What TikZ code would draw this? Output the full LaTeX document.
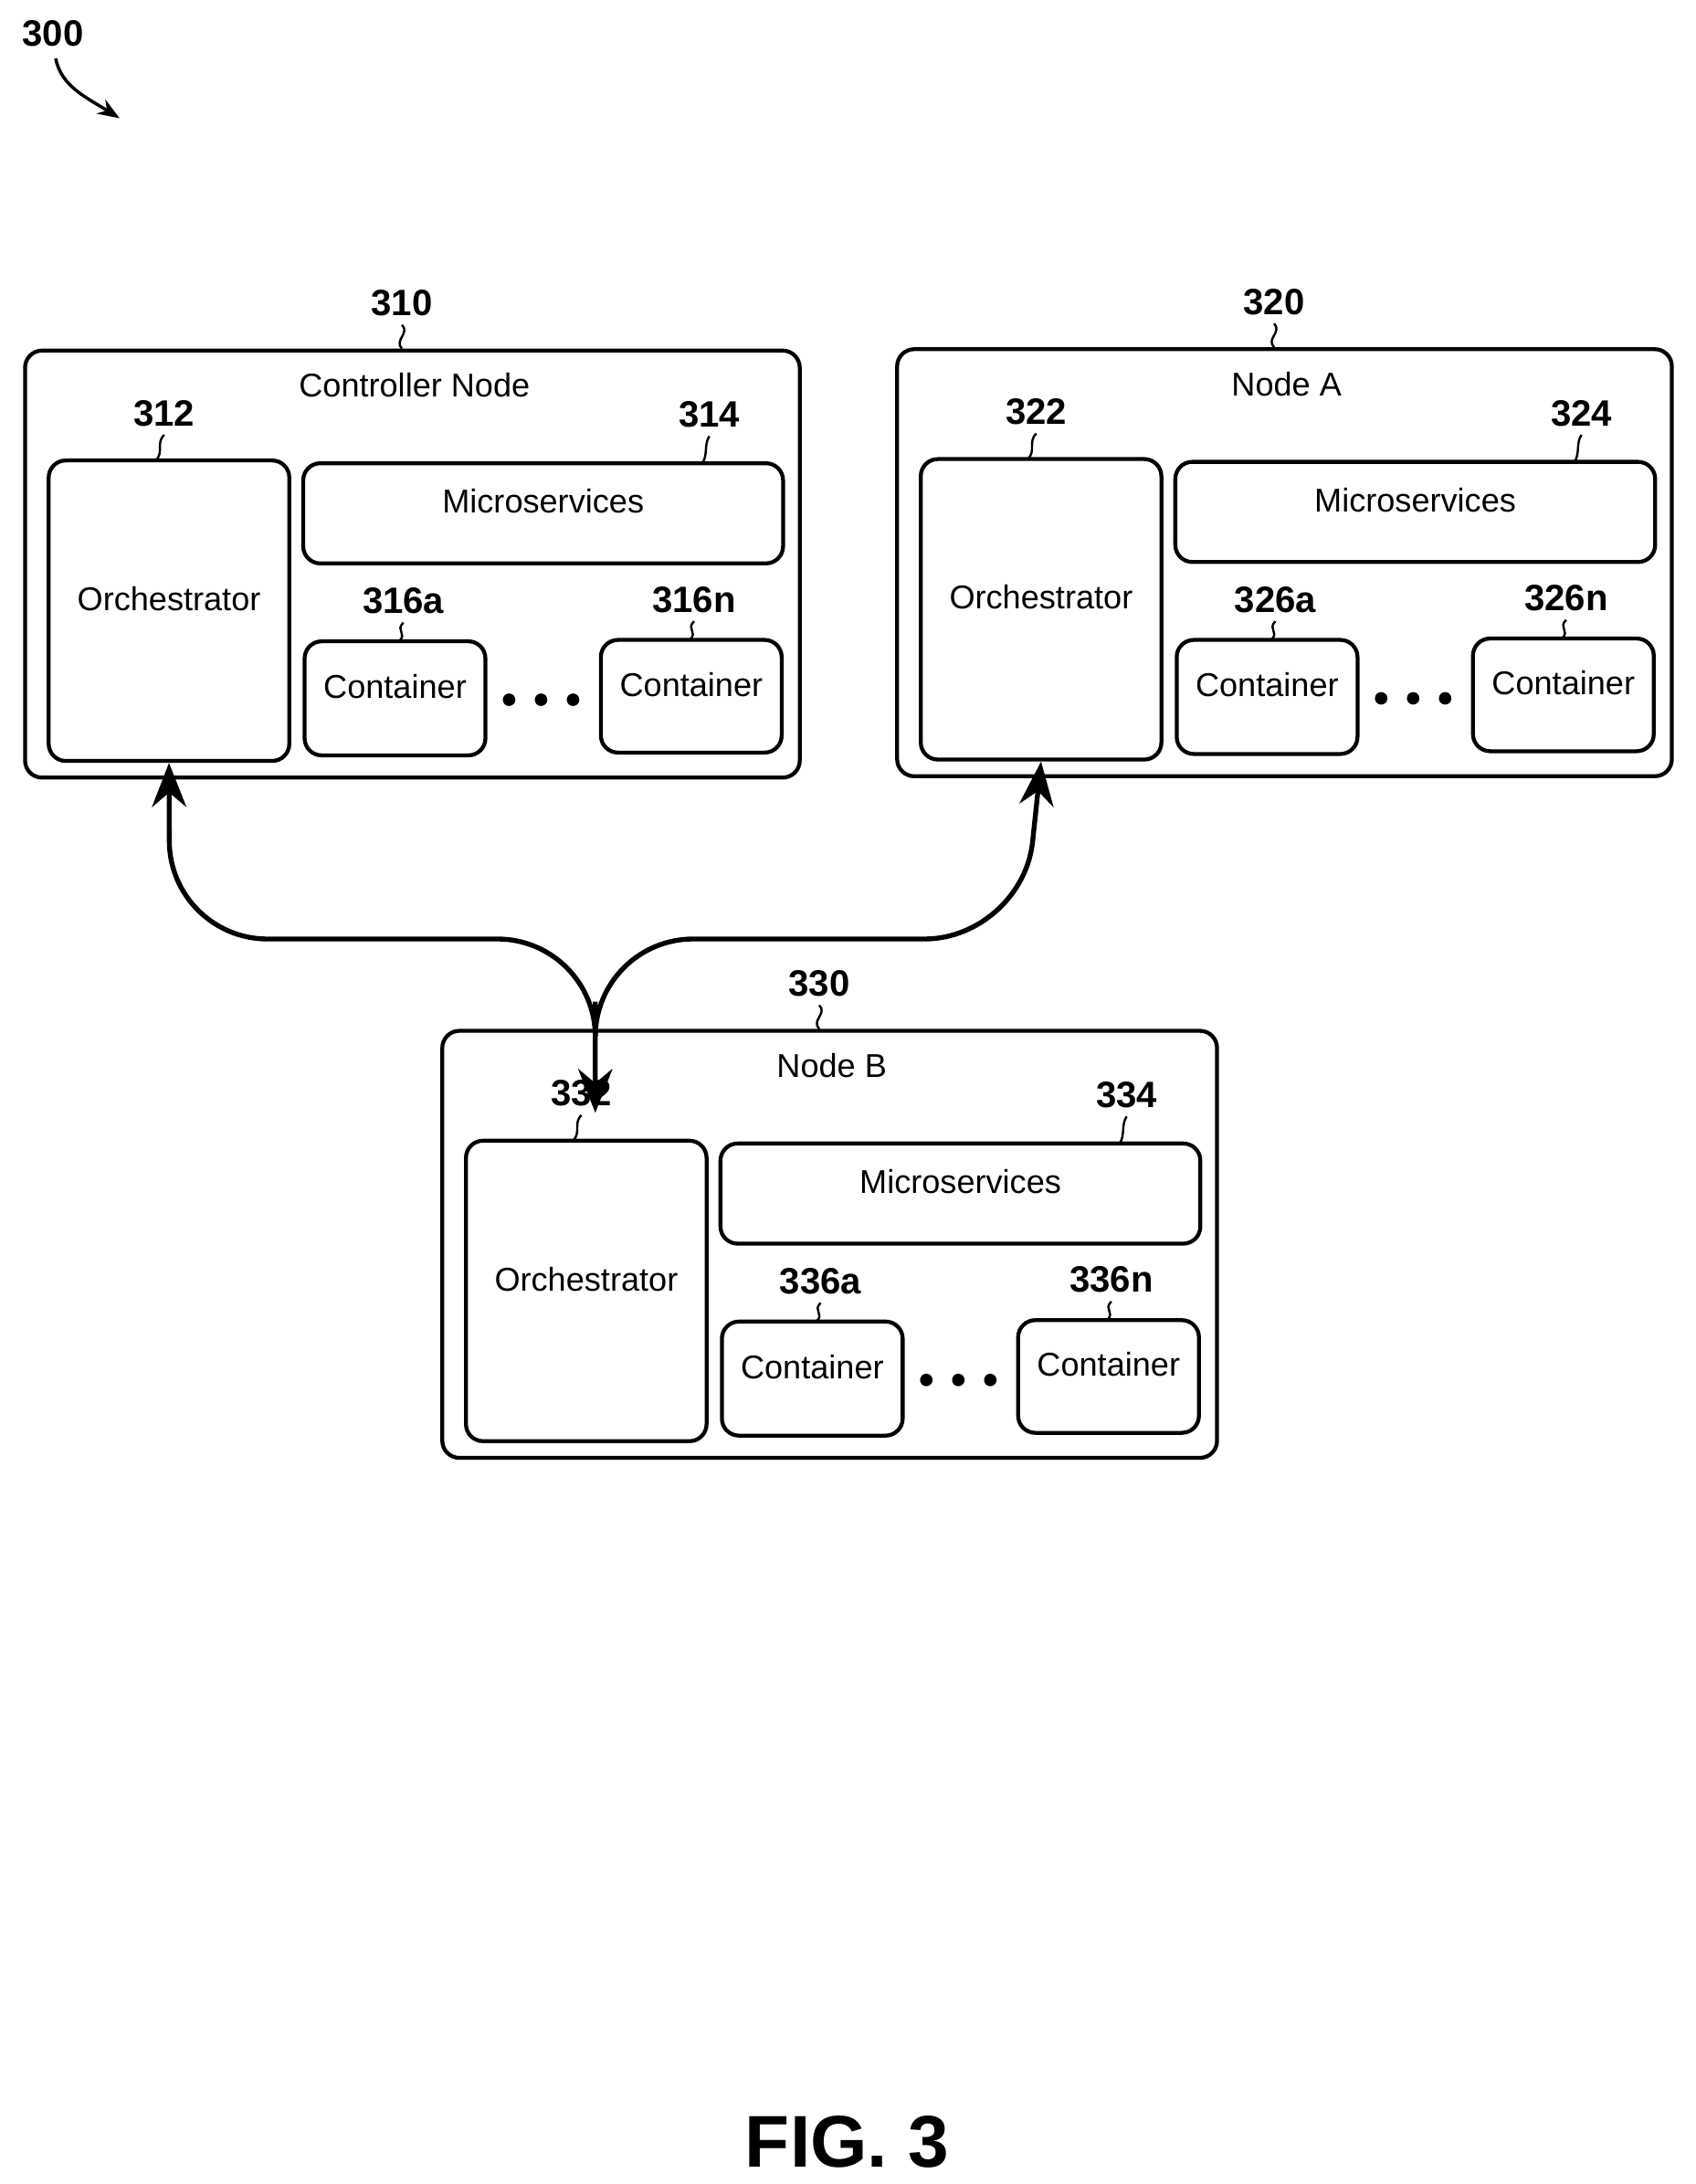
\documentclass[tikz,border=0pt]{standalone}
\usepackage{fontspec}
\setmainfont{Liberation Sans}
\usetikzlibrary{fit,arrows.meta}
\tikzset{
  box/.style={draw, line width=1.6pt, rounded corners=7pt, inner sep=0pt},
  txt/.style={font=\fontsize{13.5}{15}\selectfont},
  num/.style={font=\fontsize{15}{17}\selectfont\bfseries},
  squig/.style={line width=0.9pt},
  link/.style={line width=2pt, rounded corners=40pt},
}
\begin{document}
\begin{tikzpicture}[x=0.02cm, y=-0.02cm]
\useasboundingbox (0,0) rectangle (1219,1570);

\node[num] (n300) at (38,24) {300};
\draw[line width=1.3pt, -{Stealth[length=9pt]}] (40,42) .. controls (44,62) and (62,70) .. (86,85);

\foreach \dx/\dy/\p/\title/\a/\b in {0/0/c/Controller Node/31/6, 627/-1/a/Node A/32/6, 300/489/b/Node B/33/6}
{
  \begin{scope}[shift={(\dx,\dy)}]
    \node[box, fit={(18,252) (575,559)}] (\p-node) {};
    \node[txt] (\p-title) at (298,277) {\title};
    \node[box, txt, fit={(35,331) (208,547)}] (\p-orch) {Orchestrator};
    \node[box, txt, fit={(218,333) (563,405)}] (\p-ms) {Microservices};
    \node[box, txt, fit={(219,461) (349,543)}] (\p-ca) {Container};
    \node[box, txt, fit={(432,460) (562,541)}] (\p-cn) {Container};
    \foreach \x in {366,389,412}
      \fill (\x,503) circle (4.5);
    % reference numbers
    \node[num] (\p-l0) at (289,218) {\a0};
    \node[num] (\p-l1) at (118,297) {\a2};
    \node[num] (\p-l2) at (510,298) {\a4};
    \node[num] (\p-l3) at (290,432) {\a\b a};
    \node[num] (\p-l4) at (499,431) {\a\b n};
    \draw[squig] (\p-l0.south) .. controls +(6,6) and +(-6,-6) .. (\p-node.north -| \p-l0.south);
    \draw[squig] (\p-l1.south) .. controls +(-6,6) and +(6,-6) .. (112,331);
    \draw[squig] (\p-l2.south) .. controls +(-4,6) and +(4,-6) .. (505,333);
    \draw[squig] (\p-l3.south) .. controls +(-6,6) and +(6,-6) .. (287,461);
    \draw[squig] (\p-l4.south) .. controls +(-6,6) and +(6,-6) .. (496,460);
  \end{scope}
}

\coordinate (j) at (428,720);
\draw[link, {Stealth[length=18pt,width=14pt]}-{Stealth[length=18pt,width=14pt]}]
  (c-orch.south) -- (122,675) -- (428,675) -- (428,800);
\draw[link, {Stealth[length=18pt,width=14pt]}-]
  (a-orch.south) -- (735,675) -- (428,675) -- (j);

\node[font=\fontsize{30}{34}\selectfont\bfseries] (fig) at (609,1540) {FIG. 3};
\end{tikzpicture}
\end{document}
